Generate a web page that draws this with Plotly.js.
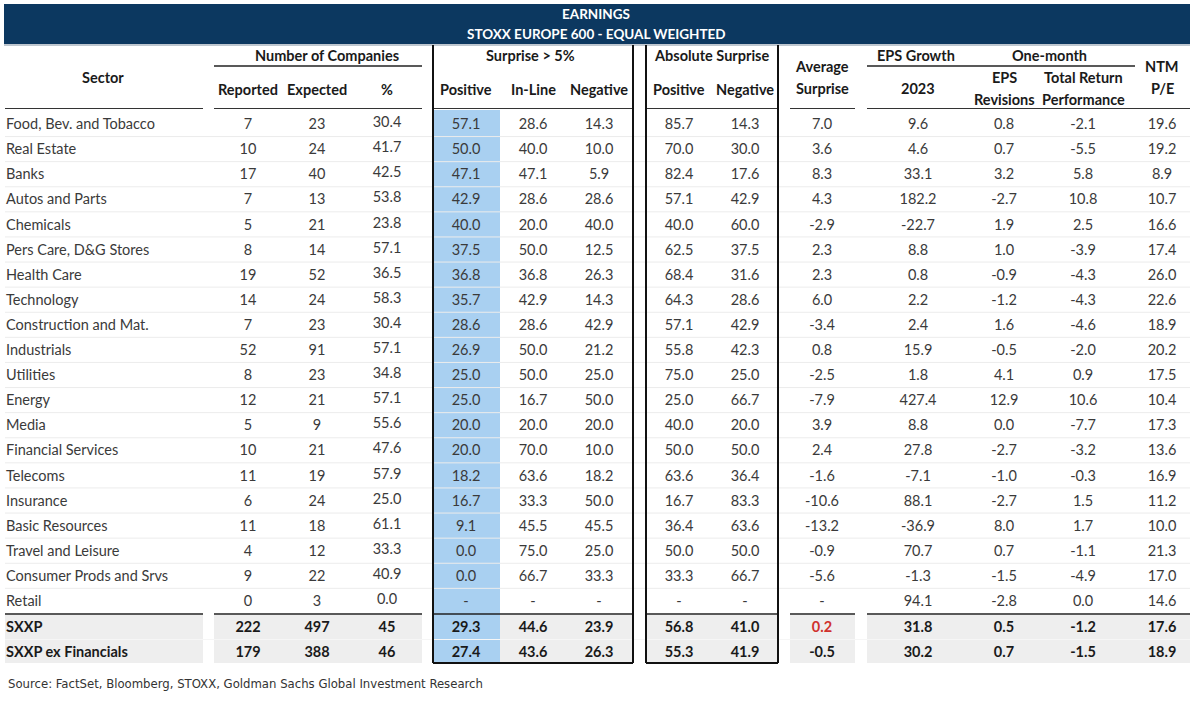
<!DOCTYPE html>
<html><head><meta charset="utf-8">
<script src="https://cdn.plot.ly/plotly-3.0.1.min.js"></script>
<style>html,body{margin:0;padding:0;background:#fff}#chart{width:1192px;height:701px}</style>
</head><body><div id="chart"></div>
<script>
// ---------- DATA ----------
const sectors = ["Food, Bev. and Tobacco","Real Estate","Banks","Autos and Parts","Chemicals","Pers Care, D&G Stores","Health Care","Technology","Construction and Mat.","Industrials","Utilities","Energy","Media","Financial Services","Telecoms","Insurance","Basic Resources","Travel and Leisure","Consumer Prods and Srvs","Retail"];
const reported = [7,10,17,7,5,8,19,14,7,52,8,12,5,10,11,6,11,4,9,0];
const expected = [23,24,40,13,21,14,52,24,23,91,23,21,9,21,19,24,18,12,22,3];
const pctReported = [30.4,41.7,42.5,53.8,23.8,57.1,36.5,58.3,30.4,57.1,34.8,57.1,55.6,47.6,57.9,25.0,61.1,33.3,40.9,0.0];
const surprisePositive = [57.1,50.0,47.1,42.9,40.0,37.5,36.8,35.7,28.6,26.9,25.0,25.0,20.0,20.0,18.2,16.7,9.1,0.0,0.0,null];
const surpriseInLine = [28.6,40.0,47.1,28.6,20.0,50.0,36.8,42.9,28.6,50.0,50.0,16.7,20.0,70.0,63.6,33.3,45.5,75.0,66.7,null];
const surpriseNegative = [14.3,10.0,5.9,28.6,40.0,12.5,26.3,14.3,42.9,21.2,25.0,50.0,20.0,10.0,18.2,50.0,45.5,25.0,33.3,null];
const absPositive = [85.7,70.0,82.4,57.1,40.0,62.5,68.4,64.3,57.1,55.8,75.0,25.0,40.0,50.0,63.6,16.7,36.4,50.0,33.3,null];
const absNegative = [14.3,30.0,17.6,42.9,60.0,37.5,31.6,28.6,42.9,42.3,25.0,66.7,20.0,50.0,36.4,83.3,63.6,50.0,66.7,null];
const avgSurprise = [7.0,3.6,8.3,4.3,-2.9,2.3,2.3,6.0,-3.4,0.8,-2.5,-7.9,3.9,2.4,-1.6,-10.6,-13.2,-0.9,-5.6,null];
const epsGrowth2023 = [9.6,4.6,33.1,182.2,-22.7,8.8,0.8,2.2,2.4,15.9,1.8,427.4,8.8,27.8,-7.1,88.1,-36.9,70.7,-1.3,94.1];
const epsRevisions = [0.8,0.7,3.2,-2.7,1.9,1.0,-0.9,-1.2,1.6,-0.5,4.1,12.9,0.0,-2.7,-1.0,-2.7,8.0,0.7,-1.5,-2.8];
const totalReturn = [-2.1,-5.5,5.8,10.8,2.5,-3.9,-4.3,-4.3,-4.6,-2.0,0.9,10.6,-7.7,-3.2,-0.3,1.5,1.7,-1.1,-4.9,0.0];
const ntmPE = [19.6,19.2,8.9,10.7,16.6,17.4,26.0,22.6,18.9,20.2,17.5,10.4,17.3,13.6,16.9,11.2,10.0,21.3,17.0,14.6];

const summaryLabels = ["SXXP","SXXP ex Financials"];
const sumReported = [222,179];
const sumExpected = [497,388];
const sumPct = [45,46];
const sumPositive = [29.3,27.4];
const sumInLine = [44.6,43.6];
const sumNegative = [23.9,26.3];
const sumAbsPositive = [56.8,55.3];
const sumAbsNegative = [41.0,41.9];
const sumAvgSurprise = [0.2,-0.5];
const sumEps2023 = [31.8,30.2];
const sumRevisions = [0.5,0.7];
const sumTotalReturn = [-1.2,-1.5];
const sumNtmPE = [17.6,18.9];

// ---------- LAYOUT CONSTANTS ----------
const W = 1192, H = 701;
const FONT = "Lato, 'Noto Sans', sans-serif";
const FS = 14.5;
const TXT = "#3a3a3a", HDR = "#1a1a1a";
const NAVY = "#0c3860", BLUE = "#a9d0f1", GREY = "#eeeeee";
const rowY0 = 125.5, rowH = 25.1;
const sumY0 = 628.5, sumH = 25;
const rowYs = sectors.map((_, i) => rowY0 + i * rowH);
const sumYs = summaryLabels.map((_, j) => sumY0 + j * sumH);

const fmt = (d) => (v) => (v === null || v === undefined) ? "-" : v.toFixed(d);

const columns = [
  {x:248, vals:reported, sv:sumReported, d:0, sd:0},
  {x:317, vals:expected, sv:sumExpected, d:0, sd:0},
  {x:387, vals:pctReported, sv:sumPct, d:1, sd:0, dy:-2},
  {x:466, vals:surprisePositive, sv:sumPositive, d:1, sd:1},
  {x:533, vals:surpriseInLine, sv:sumInLine, d:1, sd:1},
  {x:599, vals:surpriseNegative, sv:sumNegative, d:1, sd:1},
  {x:679, vals:absPositive, sv:sumAbsPositive, d:1, sd:1},
  {x:745, vals:absNegative, sv:sumAbsNegative, d:1, sd:1},
  {x:822, vals:avgSurprise, sv:sumAvgSurprise, d:1, sd:1, red:[0]},
  {x:918, vals:epsGrowth2023, sv:sumEps2023, d:1, sd:1},
  {x:1004, vals:epsRevisions, sv:sumRevisions, d:1, sd:1},
  {x:1083, vals:totalReturn, sv:sumTotalReturn, d:1, sd:1},
  {x:1162, vals:ntmPE, sv:sumNtmPE, d:1, sd:1}
];

const traces = [];
traces.push({type:"scatter", mode:"text", x:sectors.map(()=>6), y:rowYs, text:sectors,
  textposition:"middle right", textfont:{family:FONT, size:FS, color:TXT}, hoverinfo:"skip", showlegend:false});
traces.push({type:"scatter", mode:"text", x:summaryLabels.map(()=>6), y:sumYs, text:summaryLabels.map(s=>"<b>"+s+"</b>"),
  textposition:"middle right", textfont:{family:FONT, size:FS, color:HDR}, hoverinfo:"skip", showlegend:false});
columns.forEach(c => {
  traces.push({type:"scatter", mode:"text", x:c.vals.map(()=>c.x), y:rowYs.map(y=>y+(c.dy||0)),
    text:c.vals.map(fmt(c.d)), textposition:"middle center",
    textfont:{family:FONT, size:FS, color:TXT}, hoverinfo:"skip", showlegend:false});
  traces.push({type:"scatter", mode:"text", x:c.sv.map(()=>c.x), y:sumYs,
    text:c.sv.map(v=>"<b>"+fmt(c.sd)(v)+"</b>"), textposition:"middle center",
    textfont:{family:FONT, size:FS, color:c.sv.map((_,j)=> (c.red && c.red.includes(j)) ? "#d0312d" : HDR)},
    hoverinfo:"skip", showlegend:false});
});

// ---------- SHAPES ----------
const shapes = [];
const rect = (x0,y0,x1,y1,fill) => shapes.push({type:"rect", xref:"x", yref:"y", x0, y0, x1, y1, fillcolor:fill, line:{width:0}, layer:"below"});
const line = (x0,y0,x1,y1,color,w) => shapes.push({type:"line", xref:"x", yref:"y", x0, y0, x1, y1, line:{color, width:w}});

rect(4, 4, 1190, 44, NAVY);
line(4, 45, 1190, 45, "#7f8fa0", 1);
const segs = [[5,203],[214,422],[500,633],[646,778],[790,855],[867,1190]];
const sumTop = 615, sumBot = 663;
segs.forEach(s => rect(s[0], sumTop, s[1], sumBot, GREY));
rect(434, 110, 500, 663, BLUE);
for (let i = 1; i < sectors.length; i++) {
  const y = 124 + (i - 0.5) * rowH;
  line(5, y, 1190, y, "#ececec", 1);
}
line(5, 639.5, 1190, 639.5, "#f6f6f6", 1);
line(214, 66, 422, 66, "#222", 1.5);
line(867, 66, 1135, 66, "#222", 1.5);
const hsegs = [[5,203],[214,422],[433,633],[646,778],[790,855],[867,1190]];
hsegs.forEach(s => line(s[0], 108.5, s[1], 108.5, "#333", 1.2));
hsegs.forEach(s => line(s[0], 614, s[1], 614, "#222", 1.5));
[[433,633],[646,778]].forEach(b => {
  line(b[0], 45, b[0], 663, "#111", 2);
  line(b[1], 45, b[1], 663, "#111", 2);
  line(b[0], 663, b[1], 663, "#111", 2);
});

// ---------- ANNOTATIONS (headers) ----------
const ann = [];
const A = (x,y,t,opts={}) => ann.push(Object.assign({xref:"x", yref:"y", x, y, text:t, showarrow:false,
  xanchor:"center", yanchor:"middle", font:{family:FONT, size:FS, color:HDR}}, opts));
A(596, 14, "<b>EARNINGS</b>", {font:{family:FONT, size:13.5, color:"#ffffff"}});
A(596, 34, "<b>STOXX EUROPE 600 - EQUAL WEIGHTED</b>", {font:{family:FONT, size:13.5, color:"#ffffff"}});
A(103, 77, "<b>Sector</b>");
A(327, 55, "<b>Number of Companies</b>");
A(248, 89, "<b>Reported</b>");
A(317, 89, "<b>Expected</b>");
A(387, 89, "<b>%</b>");
A(530, 55, "<b>Surprise > 5%</b>");
A(466, 89, "<b>Positive</b>");
A(533, 89, "<b>In-Line</b>");
A(599, 89, "<b>Negative</b>");
A(711, 55, "<b>Absolute Surprise</b>");
A(679, 89, "<b>Positive</b>");
A(745, 89, "<b>Negative</b>");
A(822, 66, "<b>Average</b>");
A(822, 88, "<b>Surprise</b>");
A(916, 55, "<b>EPS Growth</b>");
A(1049, 55, "<b>One-month</b>");
A(918, 88, "<b>2023</b>");
A(1004, 77, "<b>EPS</b>");
A(1004, 99, "<b>Revisions</b>");
A(1083, 77, "<b>Total Return</b>");
A(1083, 99, "<b>Performance</b>");
A(1162, 66, "<b>NTM</b>");
A(1162, 88, "<b>P/E</b>");
A(6, 683, "Source: FactSet, Bloomberg, STOXX, Goldman Sachs Global Investment Research",
  {xanchor:"left", font:{family:"'DejaVu Sans Condensed', sans-serif", size:13, color:"#333"}});

const layout = {
  width:W, height:H, margin:{l:0,r:0,t:0,b:0},
  paper_bgcolor:"#ffffff", plot_bgcolor:"#ffffff",
  xaxis:{range:[0,W], visible:false, fixedrange:true},
  yaxis:{range:[H,0], visible:false, fixedrange:true},
  shapes, annotations:ann, showlegend:false
};
Plotly.newPlot("chart", traces, layout, {staticPlot:true, displayModeBar:false});
</script>
</body></html>
